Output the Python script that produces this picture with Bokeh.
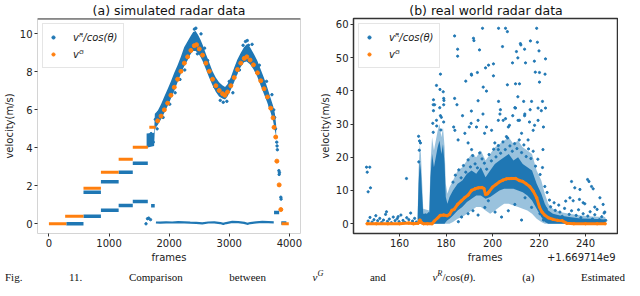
from bokeh.plotting import figure
from bokeh.layouts import column, row
from bokeh.models import Range1d, FixedTicker, Legend, LegendItem, Span, Div
from bokeh.embed import file_html
from bokeh.resources import INLINE

BLUE = "#1f77b4"
ORANGE = "#ff7f0e"
FONT = "DejaVu Sans"
NBSP = "\u00a0"

# ---------------- (a) simulated radar data ----------------
sim_x_ticks = [0, 1000, 2000, 3000, 4000]
sim_y_ticks = [0, 2, 4, 6, 8, 10]

# v^G staircase (start frame, end frame, value)
sim_g_step_start = [0, 270, 575, 865, 1160, 1395, 1670, 3870]
sim_g_step_end = [290, 575, 865, 1160, 1395, 1645, 1775, 3990]
sim_g_step_value = [0.0, 0.40, 1.87, 2.72, 3.40, 4.03, 5.08, 0.0]

# v^G along the speed curve
sim_g_frames = [1809, 1865, 1920, 1975, 2030, 2085, 2141, 2196, 2252, 2307, 2362, 2418, 2456, 2501,
                2556, 2611, 2668, 2722, 2777, 2833, 2888, 2927, 2971, 3026, 3082, 3137, 3192, 3248,
                3292, 3347, 3402, 3469, 3524, 3579, 3635, 3690, 3729, 3745, 3773, 3792, 3830, 3858]
sim_g_values = [5.42, 5.67, 6.0, 6.35, 6.77, 7.19, 7.61, 8.03, 8.46, 8.79, 9.13, 9.38, 9.43, 9.21,
                8.88, 8.46, 8.03, 7.61, 7.27, 7.02, 6.85, 6.77, 6.94, 7.27, 7.70, 8.12, 8.46, 8.71,
                8.79, 8.62, 8.37, 7.95, 7.53, 7.11, 6.68, 6.09, 5.58, 5.08, 4.57, 3.3, 2.05, 0.75]

# v^R/cos(theta) flat tracks (start frame, end frame, value)
sim_r_step_start = [290, 575, 575, 865, 865, 1160, 1160, 1395, 1395, 1700, 3745, 3865]
sim_r_step_end = [575, 865, 865, 1160, 1160, 1395, 1395, 1645, 1645, 1760, 3830, 3950]
sim_r_step_value = [0.0, 0.40, 1.66, 0.72, 2.22, 0.96, 2.72, 1.17, 3.19, 0.95, 0.60, 0.04]

# v^R/cos(theta) near-zero trace
sim_r_low_frames = [1780, 1850, 1950, 2050, 2150, 2250, 2350, 2450, 2550, 2650, 2750, 2850,
                    2900, 2950, 3050, 3150, 3250, 3300, 3350, 3450, 3550, 3650, 3740]
sim_r_low_values = [0.07, 0.06, 0.08, 0.07, 0.09, 0.08, 0.06, 0.05, 0.02, 0.07, 0.08, 0.04,
                    0.0, 0.04, 0.10, 0.09, 0.05, 0.0, 0.04, 0.08, 0.10, 0.09, 0.08]

# v^R/cos(theta) dense band along the curve (lower / upper edge)
sim_band_frames = [1625, 1750, 1762, 1810, 1865, 1920, 1975, 2030, 2085, 2140, 2195, 2250, 2305,
                   2360, 2400, 2440, 2480, 2520, 2560, 2610, 2665, 2720, 2775, 2830, 2885, 2930,
                   2970, 3025, 3080, 3135, 3190, 3245, 3290, 3345, 3400, 3465, 3520, 3575, 3630,
                   3690, 3730, 3760, 3780]
sim_band_lower = [4.0, 4.1, 5.0, 5.2, 5.5, 5.85, 6.2, 6.6, 7.0, 7.45, 7.9, 8.3, 8.6, 8.95, 9.1,
                  9.1, 9.0, 8.8, 8.55, 8.15, 7.7, 7.3, 6.95, 6.7, 6.6, 6.55, 6.7, 7.05, 7.45, 7.9,
                  8.25, 8.5, 8.55, 8.4, 8.15, 7.75, 7.3, 6.85, 6.4, 5.85, 5.4, 4.9, 4.6]
sim_band_upper = [4.75, 4.8, 5.8, 5.95, 6.3, 6.7, 7.1, 7.5, 7.95, 8.35, 8.8, 9.3, 9.6, 9.9, 10.1,
                  10.15, 9.95, 9.7, 9.4, 8.95, 8.5, 8.05, 7.7, 7.45, 7.3, 7.2, 7.35, 7.7, 8.2,
                  8.65, 9.0, 9.3, 9.45, 9.3, 9.0, 8.6, 8.15, 7.7, 7.2, 6.6, 6.2, 5.8, 5.2]

# v^R/cos(theta) individual points
sim_r_pts_frames = [1640, 1660, 1690, 1615, 1700, 1735, 1770, 1800, 1830, 1900, 1960, 2010, 2100,
                    2180, 2260, 2330, 2390, 2420, 2445, 2470, 2500, 2530, 2590, 2640, 2700, 2760,
                    2850, 2900, 2960, 3000, 3060, 3110, 3170, 3230, 3270, 3300, 3320, 3380, 3440,
                    3500, 3560, 3620, 3680, 3710, 3740, 3755, 3770, 3790, 3795, 3800, 3825, 3830,
                    3835, 3858, 3862]
sim_r_pts_values = [0.27, 0.3, 0.22, 0.0, 4.75, 4.3, 5.5, 5.0, 5.9, 5.6, 6.7, 6.3, 6.9, 7.6, 8.1,
                    9.0, 9.2, 10.25, 10.3, 8.95, 9.05, 10.0, 9.25, 8.6, 7.8, 7.2, 6.5, 6.4, 6.45,
                    7.5, 6.9, 7.9, 8.1, 9.4, 9.6, 9.65, 9.4, 9.45, 8.2, 8.35, 7.4, 7.5, 6.2, 6.8,
                    6.0, 5.6, 5.0, 4.3, 4.1, 3.9, 2.8, 2.6, 2.7, 1.4, 1.3]

# ---------------- (b) real world radar data ----------------
real_offset_text = "+1.669714e9"
real_x_ticks = [160, 180, 200, 220, 240]
real_y_ticks = [0, 10, 20, 30, 40, 50, 60]

real_g_x = [146, 150, 155, 160, 164, 166, 168, 168.8, 169.5, 170.3, 172, 174, 175, 176.5, 177.5,
            179, 180.5, 181.5, 182.5, 183.5, 185, 186.5, 188, 189.5, 191, 192.5, 194, 195.5,
            196.3, 197, 197.8, 198.5, 200, 201.5, 203, 204.5, 206, 208, 210, 211.5, 213, 214.5,
            216, 217.5, 219, 220.2, 221.3, 222.4, 224, 226, 228, 230, 232, 235, 240, 245, 248.5]
real_g_y = [0, 0, 0, 0, 0.2, 0, 0.1, 1.1, 0.3, 0, 0, 0, 0.8, 1.8, 2.5, 2.6, 2.4, 2.8, 4.0, 4.3,
            5.8, 6.8, 7.8, 8.6, 10.0, 10.5, 10.8, 10.9, 10.6, 8.8, 9.0, 9.6, 11.0, 11.8, 12.6,
            13.1, 13.5, 13.6, 13.6, 13.0, 12.7, 12.0, 11.2, 9.8, 7.8, 5.0, 3.5, 2.6, 1.8, 1.3,
            1.0, 0.9, 0.1, 0, 0, 0, 0]

# dense core of the v^R/cos(theta) cloud, and its looser halo
real_core_x = [167.8, 168.2, 168.7, 169.2, 169.7, 170.2, 172.8, 173.3, 174.0, 174.8, 175.6, 176.4,
               177.2, 178.0, 178.7, 179.4, 179.9, 180.6, 181.5, 183, 185, 187, 189, 191, 193,
               195, 197, 199, 201, 203, 205, 207, 209, 211, 213, 215, 217, 219, 221, 222.5, 224,
               226, 229, 233, 238, 243, 248.5]
real_core_lower = [0, 0, 0, 0, 0, 0, 0, 0, 0, 0, 0, 0, 0, 0, 0, 0, 0.5, 1.0, 1.5, 2.5, 4, 5,
                   6.5, 7.5, 8.5, 8.5, 7.5, 8, 9, 10, 10.5, 10.5, 10.5, 10, 9.5, 8.5, 7, 4.5, 2,
                   0.5, 0, 0, 0, 0, 0, 0, 0]
real_core_upper = [2, 12, 19, 16, 9, 3, 3, 14, 21, 17, 20, 23, 25, 21, 24, 18, 8, 6, 8, 10, 12,
                   13, 15, 16, 15, 17, 14, 16, 18, 19, 20, 21, 19, 20, 18, 17, 16, 12, 9, 6, 4,
                   3, 2.5, 2, 1.6, 1.5, 1.3]
real_halo_lower = [0, 0, 0, 0, 0, 0, 0, 0, 0, 0, 0, 0, 0, 0, 0, 0, 0, 0, 0, 0.5, 1.5, 2, 3, 4,
                   5, 5, 4, 3, 4, 5, 6, 6, 5.5, 5, 4.5, 4, 3, 1.5, 0.5, 0, 0, 0, 0, 0, 0, 0, 0]
real_halo_upper = [3, 16, 24, 21, 13, 4.5, 4, 18, 26, 22, 25, 28, 30, 26, 29, 23, 12, 9, 11, 13,
                   16, 17, 19, 21, 20, 22, 19, 21, 23, 24, 25, 26, 24, 25, 23, 22, 21, 16, 13, 9,
                   6, 4.5, 3.5, 3, 2.5, 2.2, 2]

real_high_x = [195.7, 202.6, 205.6, 206.4, 219.0, 183.7, 191.8, 192.0, 185.0, 185.0, 194.4, 204.3,
               212.0, 212.2, 216.3, 219.3, 220.0, 210.3, 213.8, 210.9, 208.6, 214.2, 218.0, 222.8,
               218.4, 222.6, 200.4, 198.3, 197.0, 193.5, 190.9, 191.0, 188.5, 177.6, 175.9, 177.4,
               178.8, 179.0, 179.1, 174.6, 175.1, 179.0, 183.7, 184.7, 196.0, 200.4, 206.4, 209.9,
               211.6, 220.2, 220.2, 210.9, 202.6, 197.4, 193.8, 190.9, 187.1, 203.4, 209.9, 213.4,
               216.8, 221.5, 222.8, 219.6, 216.2, 174.6, 174.3, 175.9, 177.6, 168.2, 168.6]
real_high_y = [58.8, 58.8, 58.8, 57.8, 58.8, 56.5, 55.8, 55.1, 52.5, 50.4, 52.3, 53.3, 54.2, 53.8,
               55.0, 54.6, 52.0, 51.8, 52.5, 49.9, 48.4, 48.4, 48.9, 49.6, 45.6, 45.0, 48.1, 47.7,
               46.9, 45.5, 45.0, 44.7, 42.9, 45.0, 41.6, 40.4, 39.7, 37.7, 37.1, 37.3, 35.8, 35.8,
               37.7, 35.8, 41.1, 44.5, 41.8, 42.1, 42.1, 45.5, 42.6, 38.2, 36.8, 39.9, 37.0, 33.9,
               32.5, 34.3, 34.8, 36.8, 36.8, 36.8, 34.8, 34.8, 34.3, 34.0, 30.2, 31.1, 32.5, 26.3,
               24.9]

real_mid_x = [174.5, 177.3, 178.0, 183.8, 185.2, 188.1, 189.5, 193.8, 195.9, 196.6, 199.6, 201.0,
              203.2, 204.6, 206.0, 206.8, 209.6, 211.0, 212.5, 213.9, 215.3, 217.5, 219.6, 221.0,
              221.7, 191.0, 202.5, 183.3, 190.0, 190.8, 193.1, 197.4, 202.5, 205.6, 207.3, 208.7,
              211.6, 213.8, 215.9, 218.1, 221.9]
real_mid_y = [35.8, 34.9, 32.0, 28.1, 25.2, 27.2, 24.3, 31.1, 33.0, 27.2, 28.1, 24.3, 33.0, 31.1,
              26.2, 29.1, 34.9, 31.1, 27.2, 33.0, 25.2, 28.1, 31.1, 34.0, 22.3, 22.3, 22.3, 29.1,
              29.1, 30.2, 29.1, 29.1, 31.1, 31.6, 29.6, 32.5, 31.1, 32.5, 30.6, 29.6, 29.1]

real_edge_x = [183, 184, 185.5, 186.5, 187.5, 188.5, 189.5, 190.5, 191.5, 192.5, 193.5, 194.5,
               195.5, 196.5, 197.5, 198.5, 199.5, 200.5, 201.5, 202.5, 203.5, 204.5, 205.5, 206.5,
               207.5, 208.5, 209.5, 210.5, 211.5, 212.5, 213.5, 214.5, 215.5, 216.5, 217.5, 218.5,
               219.5, 220.5, 221.5, 222.5, 223.5, 224.5, 174.5, 176.0, 177.8, 179.0, 168.5, 169.0,
               168.3]
real_edge_y = [12.5, 14.6, 16.2, 13.8, 17.5, 15.5, 19.2, 17.1, 20.5, 18.0, 16.8, 21.3, 19.5, 18.2,
               16.4, 20.8, 18.9, 22.4, 20.1, 23.5, 21.2, 24.6, 22.3, 25.8, 23.4, 21.8, 24.1, 22.6,
               25.2, 21.4, 23.7, 20.2, 22.5, 19.6, 21.8, 17.3, 19.4, 14.8, 16.9, 11.2, 9.4, 7.1,
               27.5, 29.4, 28.2, 30.6, 22.1, 24.3, 18.6]

real_low_x = [189.5, 191.6, 193.8, 196.7, 198.2, 201.1, 203.9, 206.8, 209.6, 212.5, 214.0, 216.8,
              219.0, 220.4, 221.9, 186.7, 185.3, 183.9, 145.8, 147.2, 146.1, 146.5, 147.5, 163.0,
              234.0, 235.4, 237.6, 240.9, 241.5, 242.6, 243.3, 233.3, 234.7, 239.7, 244.0, 248.3,
              237.4, 239.0, 246.2, 247.6, 159.4, 154.4]
real_low_y = [3.0, 3.9, 2.6, 4.9, 6.9, 3.5, 2.0, 3.9, 5.8, 1.1, 7.8, 4.9, 8.8, 3.0, 1.1, 2.0, 0.6,
              4.9, 17.0, 17.0, 15.5, 9.6, 10.8, 13.6, 12.7, 10.8, 10.3, 13.3, 12.7, 11.2, 10.5,
              7.8, 6.9, 6.0, 5.0, 3.5, 7.3, 6.3, 7.8, 5.8, 2.1, 3.6]

real_base_x = [146.5, 147.3, 148.2, 149.0, 149.8, 150.6, 151.5, 152.3, 153.1, 154.0, 154.8, 155.6,
               156.5, 157.3, 158.1, 159.0, 159.8, 160.6, 161.5, 162.3, 163.1, 164.0, 164.8, 165.6,
               166.5, 167.2, 170.5, 171.2, 171.9, 172.6, 223.0, 224.0, 225.0, 226.0, 227.0, 228.0,
               229.0, 230.0, 231.0, 232.0, 233.0, 234.0, 235.0, 236.0, 237.0, 238.0, 239.0, 240.0,
               241.0, 242.0, 243.0, 244.0, 245.0, 246.0, 247.0, 248.0, 248.7, 226.5, 228.5, 231.5]
real_base_y = [0.8, 1.9, 0.5, 1.2, 2.4, 0.9, 1.6, 0.4, 1.1, 2.8, 0.7, 1.4, 0.3, 2.0, 0.9, 1.5, 0.6,
               2.6, 1.0, 0.4, 1.8, 1.2, 3.2, 0.8, 1.6, 0.5, 1.8, 2.6, 1.1, 3.0, 4.5, 3.2, 5.1, 2.4,
               4.0, 1.6, 3.5, 2.2, 4.6, 1.3, 2.8, 3.9, 1.1, 2.5, 4.2, 1.8, 3.0, 0.9, 2.3, 3.6, 1.4,
               2.7, 4.3, 1.2, 2.1, 3.2, 1.0, 6.3, 5.6, 6.8]

LABEL_R = "vᴿ/cos(θ)"
LABEL_G = "vᴳ"

SUP = '<sup style="line-height:0;font-size:0.75em;"><i>%s</i></sup>'
CAPTION_HTML = ("Fig. 11. Comparison between <i>v</i>" + SUP % "G" + " and <i>v</i>" + SUP % "R"
                + "/cos(<i>θ</i>). (a) Estimated")


def style(p, outline_color, outline_width):
    p.xgrid.visible = False
    p.ygrid.visible = False
    p.outline_line_color = outline_color
    p.outline_line_width = outline_width
    p.title.text_font = FONT
    p.title.text_font_size = "12.5px"
    p.title.text_font_style = "normal"
    p.title.text_color = "#111111"
    p.title.align = "center"
    p.title.standoff = 1
    for ax in [p.xaxis[0], p.yaxis[0]]:
        ax.axis_line_color = None
        ax.major_tick_in = 0
        ax.major_tick_out = 3
        ax.minor_tick_in = 0
        ax.minor_tick_out = 0
        ax.major_tick_line_color = "#333333"
        ax.major_label_text_font = FONT
        ax.major_label_text_font_size = "10px"
        ax.major_label_text_color = "#222222"
        ax.major_label_standoff = 2
        ax.axis_label_text_font = FONT
        ax.axis_label_text_font_size = "10px"
        ax.axis_label_text_font_style = "normal"
        ax.axis_label_text_color = "#222222"
        ax.axis_label_standoff = 2


def legend(p, r_blue, r_orange):
    leg = Legend(items=[LegendItem(label=LABEL_R, renderers=[r_blue]),
                        LegendItem(label=LABEL_G, renderers=[r_orange])],
                 location="top_left")
    leg.label_text_font = FONT
    leg.label_text_font_size = "10px"
    leg.label_text_font_style = "italic"
    leg.label_text_color = "#222222"
    leg.border_line_color = "#cccccc"
    leg.border_line_width = 1
    leg.background_fill_alpha = 0.85
    leg.padding = 6
    leg.spacing = 3
    leg.margin = 5
    leg.glyph_width = 8
    leg.glyph_height = 14
    leg.label_height = 14
    leg.label_standoff = 16
    p.add_layout(leg)


# ---------------- figure (a) ----------------
pa = figure(frame_width=263, frame_height=215, output_backend="svg", toolbar_location=None,
            x_range=Range1d(-190, 4185), y_range=Range1d(-0.51, 10.81),
            min_border_left=35, min_border_right=14, min_border_top=0, min_border_bottom=0,
            title="(a) simulated radar data")
style(pa, "#d4d4d4", 1)
pa.xaxis[0].ticker = FixedTicker(ticks=sim_x_ticks)
pa.yaxis[0].ticker = FixedTicker(ticks=sim_y_ticks)
pa.xaxis[0].axis_label = "frames"
pa.yaxis[0].axis_label = "velocity(m/s)"

pa.varea(x=sim_band_frames, y1=sim_band_lower, y2=sim_band_upper, fill_color=BLUE, fill_alpha=1.0)
pa.segment(x0=sim_r_step_start, y0=sim_r_step_value, x1=sim_r_step_end, y1=sim_r_step_value,
           line_color=BLUE, line_width=3.5)
pa.line(x=sim_r_low_frames, y=sim_r_low_values, line_color=BLUE, line_width=2.2)
ra_blue = pa.scatter(x=sim_r_pts_frames, y=sim_r_pts_values, size=2.4, color=BLUE)
pa.segment(x0=sim_g_step_start, y0=sim_g_step_value, x1=sim_g_step_end, y1=sim_g_step_value,
           line_color=ORANGE, line_width=3)
ra_orange = pa.scatter(x=sim_g_frames, y=sim_g_values, size=4, color=ORANGE)
pa.add_layout(Span(location=pa.y_range.end, dimension="width", line_color="#3a3a3a", line_width=2))
legend(pa, ra_blue, ra_orange)

# ---------------- figure (b) ----------------
pb = figure(frame_width=265, frame_height=215, output_backend="svg", toolbar_location=None,
            x_range=Range1d(140.2, 254.2), y_range=Range1d(-2.95, 61.75),
            min_border_left=39, min_border_right=0, min_border_top=0, min_border_bottom=0,
            title="(b) real world radar data")
style(pb, "#333333", 1.5)
pb.xaxis[0].ticker = FixedTicker(ticks=real_x_ticks)
pb.yaxis[0].ticker = FixedTicker(ticks=real_y_ticks)
# x label: "frames" centred under the frame, the axis offset text flush right on the same line
pb.xaxis[0].axis_label = NBSP * 35 + "frames" + NBSP * 14 + real_offset_text
pb.yaxis[0].axis_label = "velocity(m/s)"

pb.varea(x=real_core_x, y1=real_halo_lower, y2=real_halo_upper, fill_color=BLUE, fill_alpha=0.45)
pb.varea(x=real_core_x, y1=real_core_lower, y2=real_core_upper, fill_color=BLUE, fill_alpha=1.0)
real_r_x = real_high_x + real_mid_x + real_edge_x + real_low_x + real_base_x
real_r_y = real_high_y + real_mid_y + real_edge_y + real_low_y + real_base_y
rb_blue = pb.scatter(x=real_r_x, y=real_r_y, size=2.2, color=BLUE)
pb.line(x=real_g_x, y=real_g_y, line_color=ORANGE, line_width=3)
rb_orange = pb.scatter(x=real_g_x, y=real_g_y, size=2.4, color=ORANGE)
legend(pb, rb_blue, rb_orange)

# ---------------- caption line, kept fully inside its box ----------------
caption = Div(
    text=('<div style="width:620px;height:15px;overflow:hidden;white-space:nowrap;'
          'font-family:\'Liberation Serif\',serif;font-size:11px;line-height:15px;color:#111;'
          'text-align:justify;text-align-last:justify;">' + CAPTION_HTML + '</div>'),
    width=624, height=15)

layout = column(row(pa, pb), caption)
open("out.html", "w").write(file_html(layout, INLINE))
